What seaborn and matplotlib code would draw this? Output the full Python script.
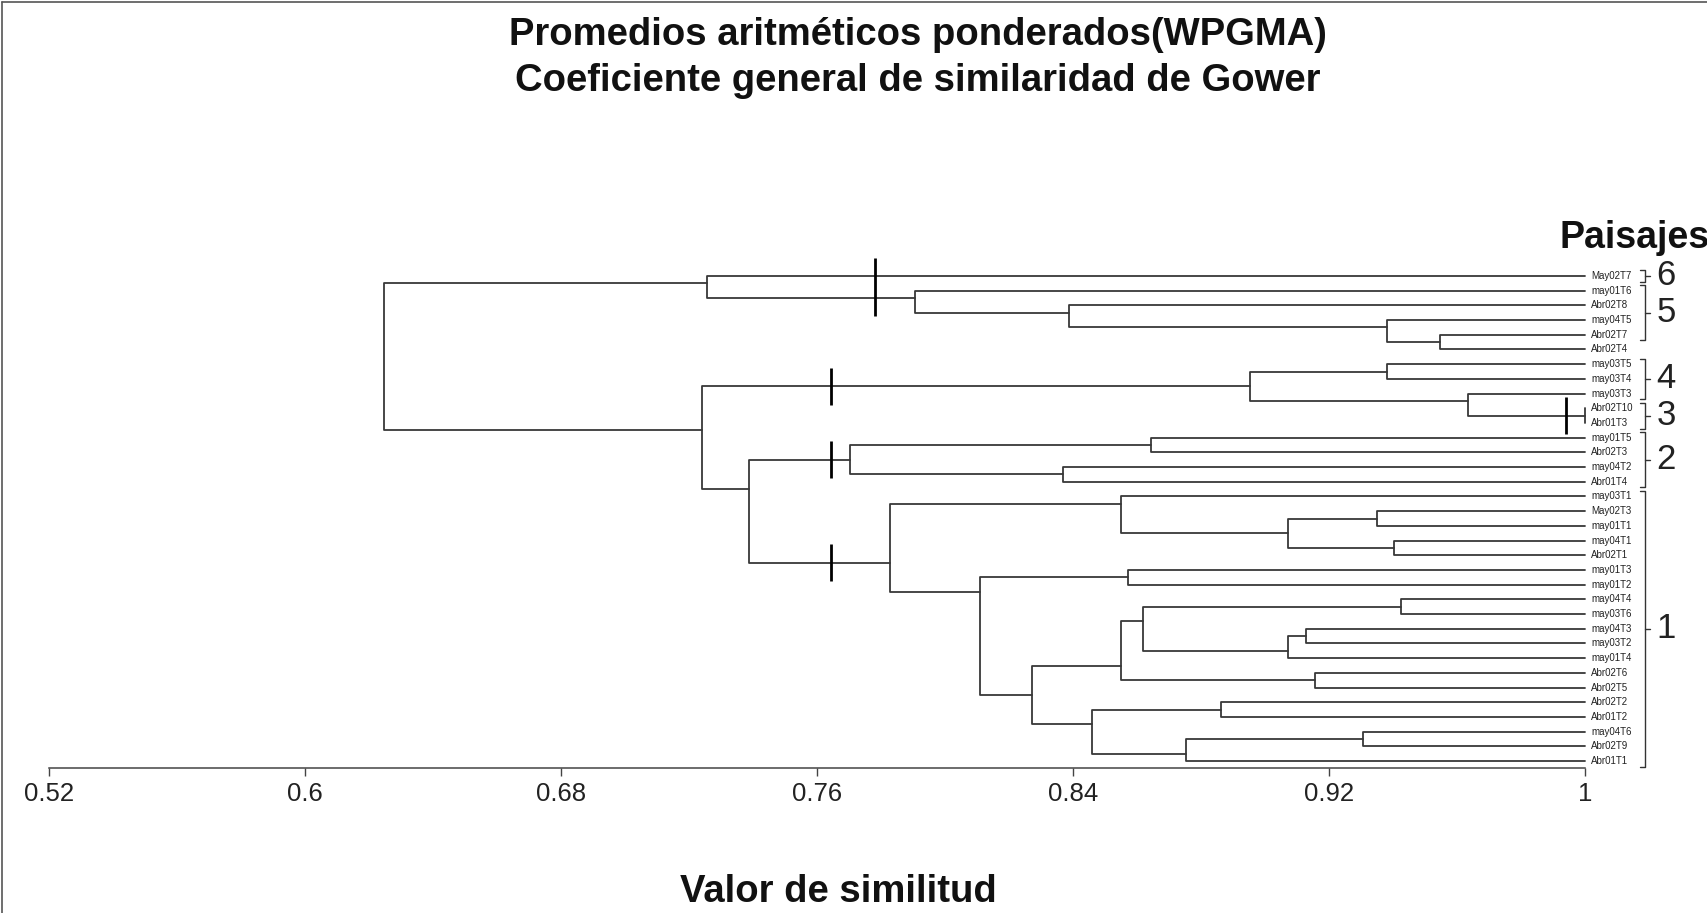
import numpy as np
import pandas as pd
import matplotlib
matplotlib.use("Agg")
import matplotlib.pyplot as plt
from matplotlib.lines import Line2D
import seaborn as sns

# leaves, top to bottom
leaves = ["May02T7", "may01T6", "Abr02T8", "may04T5", "Abr02T7", "Abr02T4",
          "may03T5", "may03T4", "may03T3", "Abr02T10", "Abr01T3", "may01T5",
          "Abr02T3", "may04T2", "Abr01T4", "may03T1", "May02T3", "may01T1",
          "may04T1", "Abr02T1", "may01T3", "may01T2", "may04T4", "may03T6",
          "may04T3", "may03T2", "may01T4", "Abr02T6", "Abr02T5", "Abr02T2",
          "Abr01T2", "may04T6", "Abr02T9", "Abr01T1"]

# WPGMA merges (node ids: leaves 0..33, then 34, 35, ... in merge order)
merge_left = [4, 3, 2, 1, 0, 6, 9, 8, 39, 11, 13, 43, 16, 18, 46, 15, 20,
              22, 24, 52, 51, 27, 54, 29, 31, 58, 57, 56, 50, 49, 45, 42, 38]
merge_right = [5, 34, 35, 36, 37, 7, 10, 40, 41, 12, 14, 44, 17, 19, 47, 48, 21,
               23, 25, 26, 53, 28, 55, 30, 32, 33, 59, 60, 61, 62, 63, 64, 65]
merge_sim = [0.9547, 0.938, 0.8389, 0.7906, 0.7255, 0.938, 1.0, 0.9634, 0.8953,
             0.8643, 0.8369, 0.7703, 0.935, 0.9403, 0.9071, 0.8549, 0.8571,
             0.9426, 0.9127, 0.9071, 0.862, 0.9156, 0.8549, 0.8862, 0.9306,
             0.8753, 0.846, 0.8273, 0.8109, 0.7828, 0.7388, 0.724, 0.6247]

# landscape groups (Paisajes)
group_names = ["6", "5", "4", "3", "2", "1"]
group_first = [0, 1, 6, 9, 11, 15]
group_last = [0, 4, 8, 10, 14, 33]

# cut marks: similarity level and the branches they cross
cut_sim = [0.778, 0.7643, 0.7643, 0.7643, 0.994]
cut_nodes = [[0, 37], [42], [45], [63], [40]]

ticks = [0.52, 0.6, 0.68, 0.76, 0.84, 0.92, 1.0]
tick_labels = ["0.52", "0.6", "0.68", "0.76", "0.84", "0.92", "1"]

# build the dendrogram segments
n = len(leaves)
node_x = {i: 1.0 for i in range(n)}
node_y = {i: float(i) for i in range(n)}
span = {i: (i, i) for i in range(n)}
rows = []
for k, (a, b, s) in enumerate(zip(merge_left, merge_right, merge_sim)):
    nid = n + k
    span[nid] = (span[a][0], span[b][1])
    node_y[nid] = (span[a][1] + span[b][0]) / 2
    node_x[nid] = s
    pts = [(node_x[a], node_y[a]), (s, node_y[a]), (s, node_y[b]), (node_x[b], node_y[b])]
    for j, (x, y) in enumerate(pts):
        rows.append({"seg": k, "order": j, "x": x, "y": y})
segs = pd.DataFrame(rows)

sns.set_theme(style="white")
plt.rcParams["font.family"] = ["Liberation Sans", "DejaVu Sans"]

W, H = 1707, 913
fig = plt.figure(figsize=(W / 100, H / 100), dpi=100)
fig.patch.set_facecolor("white")
ax = fig.add_axes([49 / W, (H - 768) / H, 1536 / W, 506 / H])

sns.lineplot(data=segs, x="x", y="y", units="seg", estimator=None, sort=False,
             color="#383838", linewidth=1.3, ax=ax)
for ln in ax.lines:
    ln.set_clip_on(False)

ax.set_xlim(0.52, 1.0)
ax.set_ylim(33.47, -0.952)
ax.set_xlabel("")
ax.set_ylabel("")
ax.set_yticks([])
ax.set_xticks(ticks)
ax.set_xticklabels(tick_labels)
ax.tick_params(axis="x", direction="out", length=6, width=1, color="#444444",
               labelsize=18.5, pad=4, labelcolor="#222222", bottom=True)
for side in ["top", "right", "left"]:
    ax.spines[side].set_visible(False)
ax.spines["bottom"].set_color("#444444")
ax.spines["bottom"].set_linewidth(1.1)
ax.set_facecolor("white")

px = (1.0 - 0.52) / 1536  # one pixel in data units

# cut marks
for cs, nodes in zip(cut_sim, cut_nodes):
    ys = [node_y[i] for i in nodes]
    ax.plot([cs, cs], [min(ys) - 1.25, max(ys) + 1.25], color="black", lw=2.0,
            clip_on=False, solid_capstyle="butt")

# leaf labels
for i, lab in enumerate(leaves):
    ax.annotate(lab, xy=(1.0, i), xytext=(6, 0), textcoords="offset pixels",
                fontsize=7, va="center", ha="left", color="#222222",
                annotation_clip=False)

# group brackets and numbers
xb = 1.0 + 60 * px
for g, f, l in zip(group_names, group_first, group_last):
    y0, y1 = f - 0.38, l + 0.38
    ym = (f + l) / 2
    ax.plot([xb - 5 * px, xb, xb, xb - 5 * px], [y0, y0, y1, y1], color="#333333",
            lw=1.0, clip_on=False)
    ax.plot([xb, xb + 5 * px], [ym, ym], color="#333333", lw=1.0, clip_on=False)
    ax.text(xb + 21 * px, ym, g, fontsize=25, ha="center", va="center",
            color="#222222", family=["Liberation Sans Narrow", "Liberation Sans"],
            clip_on=False)

# titles and labels
fig.text(918 / W, 1 - 35 / H, "Promedios aritméticos ponderados(WPGMA)",
         ha="center", va="center", fontsize=27.5, fontweight="bold", color="#111111")
fig.text(918 / W, 1 - 81 / H, "Coeficiente general de similaridad de Gower",
         ha="center", va="center", fontsize=27.5, fontweight="bold", color="#111111")
fig.text(1559 / W, 1 - 238 / H, "Paisajes", ha="left", va="center",
         fontsize=27, fontweight="bold", color="#111111")
fig.text(838 / W, 1 - 892 / H, "Valor de similitud", ha="center", va="center",
         fontsize=27.5, fontweight="bold", color="#111111")

# frame
fig.add_artist(Line2D([2 / W, 2 / W], [0, 1 - 2 / H], color="#555555", lw=1.2))
fig.add_artist(Line2D([2 / W, 1], [1 - 2 / H, 1 - 2 / H], color="#555555", lw=1.2))

fig.savefig("out.png", dpi=100)
